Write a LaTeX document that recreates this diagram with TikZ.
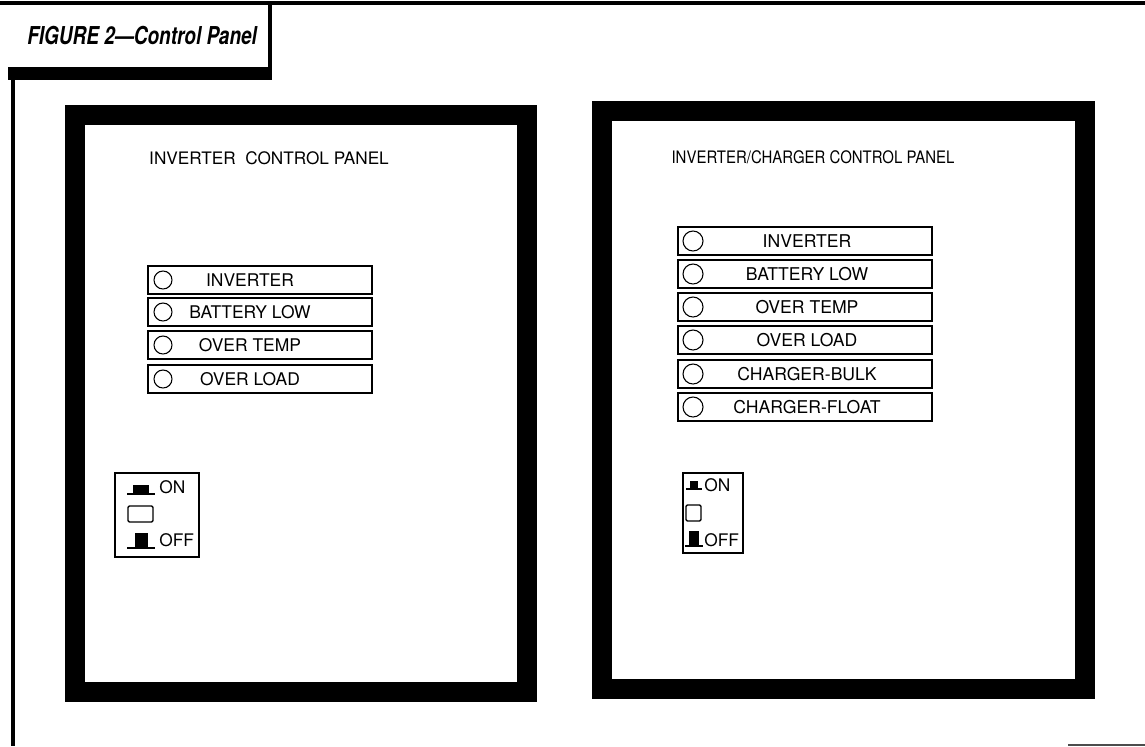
\documentclass[tikz,border=0pt]{standalone}
\usepackage{fontspec}
\setmainfont{TeX Gyre Heros}
\usepackage{graphicx}
\begin{document}
\begin{tikzpicture}[x=0.75pt,y=-0.75pt,
  panel/.style={line width=15pt},
  ledrow/.style={draw,line width=1.7pt,rectangle,inner sep=0pt},
  led/.style={draw,circle,line width=0.8pt,inner sep=0pt},
  lbl/.style={inner sep=0pt,font=\fontsize{13.1}{15}\selectfont},
  swbox/.style={draw,line width=1.3pt,rectangle,inner sep=0pt},
  swlbl/.style={inner sep=0pt,font=\fontsize{13}{15}\selectfont,anchor=west},
]
\useasboundingbox (0,0) rectangle (1145,746);
% frame and title box
\draw[line width=2.4pt] (0,3) -- (1145,3);
\draw[line width=2.8pt] (270,3) -- (270,80);
\fill (8,67) rectangle (272,80);
\draw[line width=3pt] (13,67) -- (13,746);
\draw[line width=1.2pt,black!70] (1068,745) -- (1145,745);
\node[inner sep=0pt,anchor=west] (title) at (27,36)
  {\scalebox{0.77}[1]{\fontsize{18.5}{22}\selectfont\bfseries\itshape FIGURE 2---Control Panel}};
% panels
\draw[panel] (75,115) rectangle (527,692);
\draw[panel] (602,111) rectangle (1085,689);
\node[inner sep=0pt,font=\fontsize{12.9}{15}\selectfont] (ltitle) at (269,158) {INVERTER\ \ CONTROL PANEL};
\node[inner sep=0pt] (rtitle) at (813,157)
  {\scalebox{0.87}[1]{\fontsize{12.9}{15}\selectfont INVERTER/CHARGER CONTROL PANEL}};
% left LED rows
\foreach \y/\t [count=\i] in {280/INVERTER,312/BATTERY LOW,345/OVER TEMP,379/OVER LOAD}{
  \node[ledrow,minimum width=168pt,minimum height=20.5pt] (lrow\i) at (260,\y) {};
  \node[led,minimum size=13.5pt] (lled\i) at (163,\y) {};
  \node[lbl] (llbl\i) at (250,\y) {\t};
}
% right LED rows
\foreach \y/\t [count=\i] in {241/INVERTER,274/BATTERY LOW,307/OVER TEMP,340/OVER LOAD,374/CHARGER-BULK,407/CHARGER-FLOAT}{
  \node[ledrow,minimum width=190.5pt,minimum height=21pt] (rrow\i) at (805,\y) {};
  \node[led,minimum size=15pt] (rled\i) at (693,\y) {};
  \node[lbl,font=\fontsize{13.2}{15}\selectfont] (rlbl\i) at (807,\y) {\t};
}
% left switch
\node[swbox,minimum width=63pt,minimum height=63pt] (lsw) at (157,515) {};
\fill (133,485) rectangle (149,494);
\draw[line width=1.6pt] (127,494) -- (155,494);
\draw[line width=1pt,rounded corners=1pt] (128,506) rectangle (153,522);
\fill (135,533) rectangle (148,548);
\draw[line width=1.6pt] (127,548) -- (155,548);
\node[swlbl] (lon) at (159,487) {ON};
\node[swlbl] (loff) at (159,540) {OFF};
% right switch
\node[swbox,minimum width=45pt,minimum height=60pt] (rsw) at (713,513) {};
\fill (690,481) rectangle (698,489);
\draw[line width=1.6pt] (686,489) -- (702,489);
\draw[line width=1pt,rounded corners=1pt] (686,505) rectangle (701,521);
\fill (689,531) rectangle (699,546);
\draw[line width=1.6pt] (685,546) -- (703,546);
\node[swlbl] (ron) at (704,485) {ON};
\node[swlbl] (roff) at (704,540) {OFF};
\end{tikzpicture}
\end{document}
